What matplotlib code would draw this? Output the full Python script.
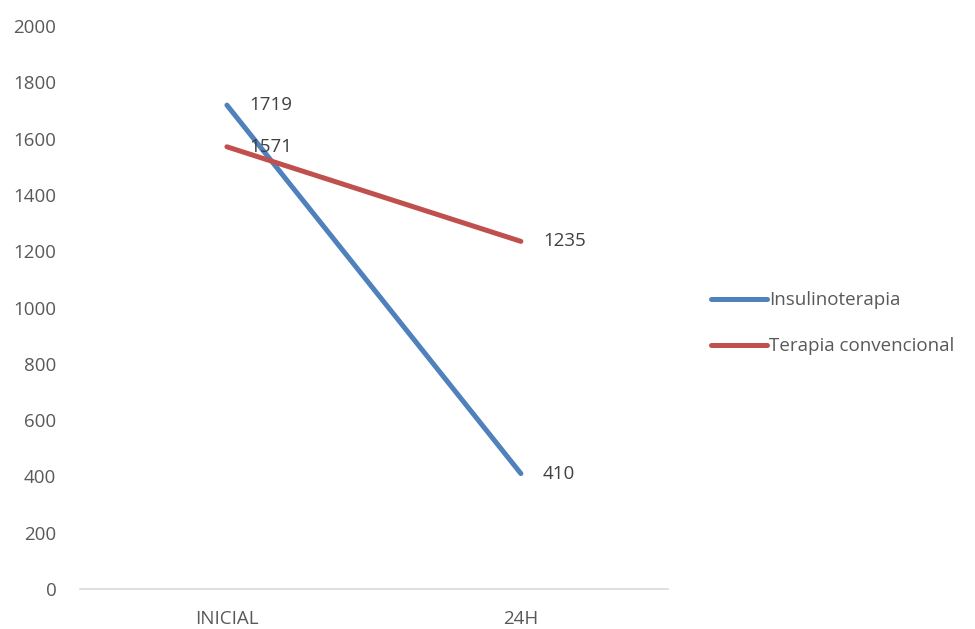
import matplotlib
matplotlib.use('Agg')
import matplotlib.pyplot as plt
import numpy as np

# glucose readings per therapy group
categories = ['INICIAL', '24H']
insulinoterapia = [1719, 410]
terapia_convencional = [1571, 1235]
series_names = ['Insulinoterapia', 'Terapia convencional']
yticks = np.arange(0, 2001, 200)

plt.rcParams['font.family'] = ['Open Sans', 'DejaVu Sans']
txt_color = '#595959'
fs = 13.5

fig = plt.figure(figsize=(9.75, 6.29), dpi=100)
ax = fig.add_axes([0.082, 0.0636, 0.603, 0.895])

x = np.arange(len(categories))
colors = ['#4F81BD', '#C0504D']
for vals, name, c in zip([insulinoterapia, terapia_convencional], series_names, colors):
    ax.plot(x, vals, color=c, lw=3.6, solid_capstyle='round', label=name)
    for xi, v in zip(x, vals):
        ax.annotate(str(v), (xi, v), xytext=(16, 0), textcoords='offset points',
                    va='center', ha='left', fontsize=fs, color='#404040')

ax.set_xlim(-0.5, 1.5)
ax.set_ylim(0, 2000)
ax.set_yticks(yticks)
ax.set_xticks(x)
ax.set_xticklabels(categories)
ax.tick_params(axis='both', length=0, labelsize=fs, labelcolor=txt_color)
ax.tick_params(axis='y', pad=17)
ax.tick_params(axis='x', pad=15)
for s in ['top', 'right', 'left']:
    ax.spines[s].set_visible(False)
ax.spines['bottom'].set_color('#D9D9D9')
ax.spines['bottom'].set_linewidth(1.2)

leg = ax.legend(loc='center left', bbox_to_anchor=(1.045, 0.472), frameon=False,
                fontsize=fs, handlelength=3.0, handletextpad=0.1, labelspacing=1.5)
for t in leg.get_texts():
    t.set_color(txt_color)

fig.savefig('out.png', dpi=100)
